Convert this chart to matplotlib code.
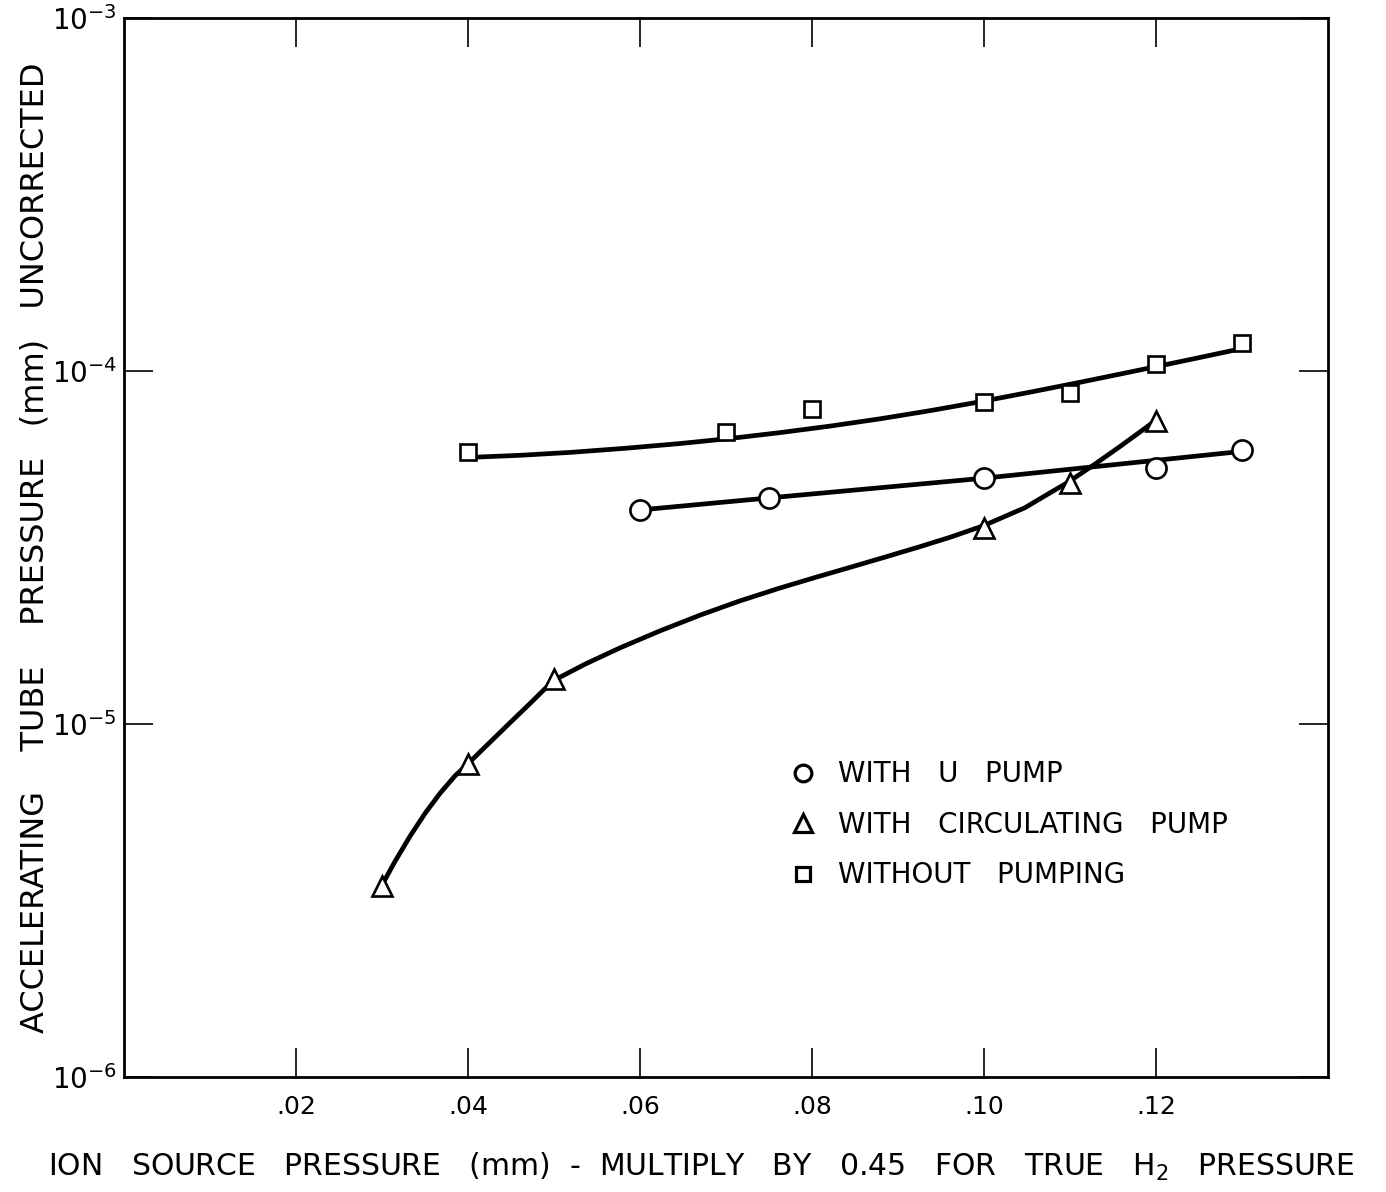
import matplotlib
matplotlib.use("Agg")
import matplotlib.pyplot as plt
from matplotlib.lines import Line2D
from matplotlib.ticker import FixedLocator, NullLocator

# ---- data ----
# Measured points (markers)
u_pump_x = [0.06, 0.075, 0.10, 0.12, 0.13]
u_pump_y = [4.04e-5, 4.37e-5, 4.97e-5, 5.31e-5, 5.96e-5]

circ_pump_x = [0.03, 0.04, 0.05, 0.10, 0.11, 0.12]
circ_pump_y = [3.48e-6, 7.72e-6, 1.34e-5, 3.59e-5, 4.83e-5, 7.2e-5]

no_pump_x = [0.04, 0.07, 0.08, 0.10, 0.11, 0.12, 0.13]
no_pump_y = [5.88e-5, 6.72e-5, 7.79e-5, 8.17e-5, 8.67e-5, 1.047e-4, 1.20e-4]

# Hand-drawn fitted curves
u_pump_curve_x = [0.06, 0.075, 0.10, 0.13]
u_pump_curve_y = [4.04e-5, 4.37e-5, 4.97e-5, 5.92e-5]

circ_curve_x = [0.03012, 0.03151, 0.03326, 0.03500, 0.03674, 0.03849, 0.03988,
                0.04256, 0.04488, 0.04721, 0.04988, 0.05360, 0.05767, 0.06233,
                0.06698, 0.07163, 0.07628, 0.08035, 0.08442, 0.08849, 0.09256,
                0.09605, 0.09988, 0.10477, 0.10709, 0.10977, 0.11291, 0.11581,
                0.11872, 0.11965]
circ_curve_y = [3.54e-6, 4.08e-6, 4.81e-6, 5.58e-6, 6.36e-6, 7.13e-6, 7.67e-6,
                8.88e-6, 1.008e-5, 1.143e-5, 1.325e-5, 1.477e-5, 1.643e-5, 1.836e-5,
                2.034e-5, 2.233e-5, 2.428e-5, 2.60e-5, 2.778e-5, 2.97e-5, 3.18e-5,
                3.38e-5, 3.64e-5, 4.10e-5, 4.43e-5, 4.84e-5, 5.45e-5, 6.11e-5,
                6.88e-5, 7.16e-5]

no_pump_curve_x = [0.04, 0.04605, 0.05186, 0.05826, 0.06465, 0.07047, 0.07628,
                   0.08209, 0.08791, 0.09372, 0.09953, 0.10535, 0.11116, 0.11581,
                   0.12047, 0.12512, 0.13035]
no_pump_curve_y = [5.69e-5, 5.77e-5, 5.88e-5, 6.04e-5, 6.23e-5, 6.44e-5, 6.69e-5,
                   6.98e-5, 7.32e-5, 7.72e-5, 8.18e-5, 8.71e-5, 9.29e-5, 9.80e-5,
                   1.0344e-4, 1.0924e-4, 1.1628e-4]

x_ticks = [0.02, 0.04, 0.06, 0.08, 0.10, 0.12]
x_tick_labels = [".02", ".04", ".06", ".08", ".10", ".12"]
y_ticks = [1e-6, 1e-5, 1e-4, 1e-3]
y_tick_labels = [r"$10^{-6}$", r"$10^{-5}$", r"$10^{-4}$", r"$10^{-3}$"]

legend_labels = ["WITH   U   PUMP", "WITH   CIRCULATING   PUMP", "WITHOUT   PUMPING"]

# ---- figure ----
W, H = 1386, 1192
fig = plt.figure(figsize=(W / 100, H / 100), dpi=100)
ax = fig.add_axes([124 / W, 1 - 1077 / H, (1328 - 124) / W, (1077 - 18) / H])

ax.set_yscale("log")
ax.set_xlim(0, 0.14)
ax.set_ylim(1e-6, 1e-3)

lw = 3.4
for cx, cy in [(no_pump_curve_x, no_pump_curve_y),
               (circ_curve_x, circ_curve_y),
               (u_pump_curve_x, u_pump_curve_y)]:
    ax.plot(cx, cy, color="black", lw=lw, solid_capstyle="round",
            solid_joinstyle="round", zorder=2)

mew = 1.9
ax.plot(u_pump_x, u_pump_y, linestyle="none", marker="o", ms=14.5,
        mfc="white", mec="black", mew=mew, zorder=3)
ax.plot(circ_pump_x, circ_pump_y, linestyle="none", marker="^", ms=14,
        mfc="white", mec="black", mew=mew, zorder=3)
ax.plot(no_pump_x, no_pump_y, linestyle="none", marker="s", ms=11.5,
        mfc="white", mec="black", mew=mew, zorder=3)

# ticks
ax.xaxis.set_major_locator(FixedLocator(x_ticks))
ax.set_xticklabels(x_tick_labels)
ax.yaxis.set_major_locator(FixedLocator(y_ticks))
ax.set_yticklabels(y_tick_labels)
ax.yaxis.set_minor_locator(NullLocator())
ax.xaxis.set_minor_locator(NullLocator())
ax.tick_params(axis="both", which="major", direction="in", length=21, width=1.2,
               top=True, right=True, color="black")
ax.tick_params(axis="x", labelsize=18, pad=13)
ax.tick_params(axis="y", labelsize=20, pad=5)

for s in ax.spines.values():
    s.set_linewidth(2.0)
    s.set_color("black")

# axis labels
ax.set_xlabel("ION   SOURCE   PRESSURE   (mm)  -  MULTIPLY   BY   0.45   FOR   TRUE   H$_2$   PRESSURE",
              fontsize=21.5, va="center")
ax.xaxis.set_label_coords(0.479, -0.085)
ax.set_ylabel("ACCELERATING    TUBE    PRESSURE   (mm)   UNCORRECTED", fontsize=23, va="center")
ax.yaxis.set_label_coords(-0.074, 0.5)

# legend
handles = [
    Line2D([], [], linestyle="none", marker="o", ms=12, mfc="white", mec="black", mew=2.3),
    Line2D([], [], linestyle="none", marker="^", ms=13, mfc="white", mec="black", mew=2.3),
    Line2D([], [], linestyle="none", marker="s", ms=9.5, mfc="white", mec="black", mew=2.3),
]
ax.legend(handles, legend_labels, loc="upper left", bbox_to_anchor=(0.543, 0.3094),
          frameon=False, fontsize=20, handlelength=1.0, handletextpad=0.76,
          labelspacing=0.81, borderaxespad=0)

fig.savefig("out.png", dpi=100, facecolor="white")
